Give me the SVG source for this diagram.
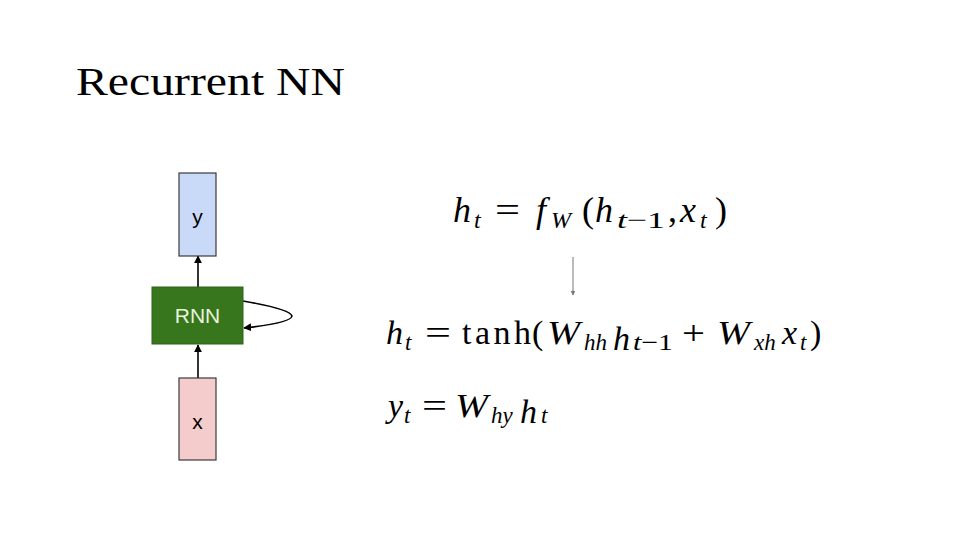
<svg xmlns="http://www.w3.org/2000/svg" width="960" height="540" viewBox="0 0 960 540">
<style>
.box{stroke:#3a3a3a;stroke-width:1.2}
.lbl{font-family:"Liberation Sans",Arial,sans-serif;font-size:21px;text-anchor:middle}
.conn{stroke:#000;stroke-width:1.6;fill:none}
.math{font-family:"Liberation Serif","Times New Roman",serif;fill:#000}
.i{font-style:italic}
</style>
<defs>
<marker id="ah" viewBox="0 0 10 10" refX="9" refY="5" markerWidth="8" markerHeight="8" orient="auto" markerUnits="userSpaceOnUse">
<path d="M0,0 L10,5 L0,10 z" fill="#000"/>
</marker>
<marker id="ahs" viewBox="0 0 10 10" refX="9" refY="5" markerWidth="5" markerHeight="5" orient="auto" markerUnits="userSpaceOnUse">
<path d="M0,0 L10,5 L0,10 z" fill="#777"/>
</marker>
</defs>
<rect width="960" height="540" fill="#fff"/>
<text x="76" y="95" font-family="'Liberation Serif','Times New Roman',serif" font-size="41" textLength="269" lengthAdjust="spacingAndGlyphs" fill="#000">Recurrent NN</text>

<g id="connectors">
<line class="conn" x1="198" y1="378" x2="198" y2="345" marker-end="url(#ah)"/>
<line class="conn" x1="198" y1="287" x2="198" y2="256" marker-end="url(#ah)"/>
<path class="conn" d="M243,301 Q290,309 292,316 Q291,323 244,328" marker-end="url(#ah)"/>
<line x1="573" y1="257" x2="573" y2="295" stroke="#777" stroke-width="1" marker-end="url(#ahs)"/>
</g>

<g id="node-y">
<rect class="box" x="179" y="173" width="37" height="83" fill="#c9daf8"/>
<text class="lbl" x="197.5" y="224">y</text>
</g>
<g id="node-rnn">
<rect x="152" y="287" width="91" height="57" fill="#38761d" stroke="#2f6318" stroke-width="1"/>
<text class="lbl" x="197.5" y="323" fill="#e8f3dc">RNN</text>
</g>
<g id="node-x">
<rect class="box" x="179" y="378" width="37" height="82" fill="#f4cccc"/>
<text class="lbl" x="197.5" y="429">x</text>
</g>

<g id="eq1" class="math" font-size="36">
<text y="222"><tspan class="i" x="453">h</tspan><tspan class="i" x="474" y="228" font-size="24">t</tspan><tspan x="495" y="222" textLength="25" lengthAdjust="spacingAndGlyphs">=</tspan><tspan class="i" x="536">f</tspan><tspan class="i" x="551" y="228" font-size="24">W</tspan><tspan x="582" y="222">(</tspan><tspan class="i" x="595">h</tspan><tspan x="617" y="228" font-size="24" textLength="48" lengthAdjust="spacingAndGlyphs"><tspan class="i">t</tspan>−1</tspan><tspan x="668" y="222">,</tspan><tspan class="i" x="680">x</tspan><tspan class="i" x="700" y="228" font-size="24">t</tspan><tspan x="715" y="222">)</tspan></text>
</g>

<g id="eq2" class="math" font-size="34">
<text y="344"><tspan class="i" x="386">h</tspan><tspan class="i" x="405" y="350" font-size="23">t</tspan><tspan x="425" y="344" textLength="26" lengthAdjust="spacingAndGlyphs">=</tspan><tspan x="462" textLength="69">tanh</tspan><tspan x="532">(</tspan><tspan class="i" x="547" textLength="33" lengthAdjust="spacingAndGlyphs">W</tspan><tspan class="i" x="584" y="350" font-size="23">hh</tspan><tspan class="i" x="613">h</tspan><tspan x="633" y="350" font-size="23" textLength="40" lengthAdjust="spacingAndGlyphs"><tspan class="i">t</tspan>−1</tspan><tspan x="682" y="344" textLength="23" lengthAdjust="spacingAndGlyphs">+</tspan><tspan class="i" x="717" textLength="33" lengthAdjust="spacingAndGlyphs">W</tspan><tspan class="i" x="754" y="350" font-size="23">xh</tspan><tspan class="i" x="782" y="344">x</tspan><tspan class="i" x="800" y="350" font-size="23">t</tspan><tspan x="810" y="344">)</tspan></text>
</g>

<g id="eq3" class="math" font-size="34">
<text y="417"><tspan class="i" x="388">y</tspan><tspan class="i" x="404" y="423" font-size="23">t</tspan><tspan x="422" y="417" textLength="25" lengthAdjust="spacingAndGlyphs">=</tspan><tspan class="i" x="455" textLength="33" lengthAdjust="spacingAndGlyphs">W</tspan><tspan class="i" x="491" y="423" font-size="23">hy</tspan><tspan class="i" x="520">h</tspan><tspan class="i" x="541" y="423" font-size="23">t</tspan></text>
</g>
</svg>
